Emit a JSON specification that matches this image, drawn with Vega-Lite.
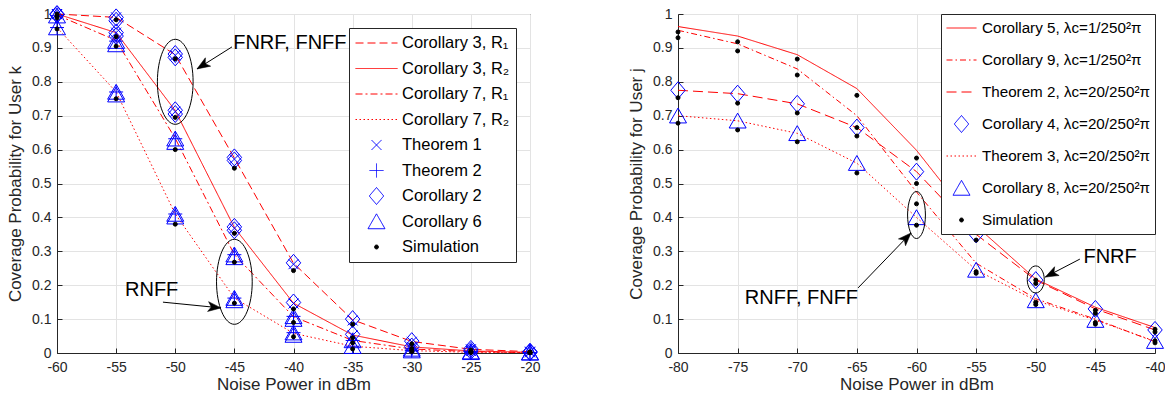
{
  "$schema": "https://vega.github.io/schema/vega-lite/v6.json",
  "background": "white",
  "padding": {"left": 6, "top": 3, "right": 0, "bottom": 2},
  "spacing": 86,
  "config": {
    "font": "Liberation Sans",
    "view": {"stroke": "#262626", "strokeWidth": 1},
    "axis": {
      "labelFont": "Liberation Sans", "labelFontSize": 14, "labelColor": "#262626",
      "titleFont": "Liberation Sans", "titleFontSize": 17, "titleFontWeight": "normal", "titleColor": "#262626",
      "domainColor": "#262626", "tickColor": "#262626", "gridColor": "#e3e3e3", "grid": true,
      "tickSize": -5, "labelPadding": 11, "titlePadding": 7, "labelFlush": false
    },
    "axisX": {"labelPadding": 12, "titlePadding": 2},
    "legend": {
      "symbolStrokeWidth": 1, "labelFont": "Liberation Sans", "labelColor": "#000000", "labelLimit": 0,
      "fillColor": "white", "strokeColor": "#262626", "cornerRadius": 0, "orient": "top-right", "clipHeight": 18
    }
  },
  "datasets": {
    "left": [
      {"series": "Corollary 3, R₁", "x": -60, "y": 1.0}, {"series": "Corollary 3, R₁", "x": -55, "y": 0.99}, {"series": "Corollary 3, R₁", "x": -50, "y": 0.88}, {"series": "Corollary 3, R₁", "x": -45, "y": 0.575}, {"series": "Corollary 3, R₁", "x": -40, "y": 0.265}, {"series": "Corollary 3, R₁", "x": -35, "y": 0.098}, {"series": "Corollary 3, R₁", "x": -30, "y": 0.034}, {"series": "Corollary 3, R₁", "x": -25, "y": 0.011}, {"series": "Corollary 3, R₁", "x": -20, "y": 0.004},
      {"series": "Corollary 3, R₂", "x": -60, "y": 1.0}, {"series": "Corollary 3, R₂", "x": -55, "y": 0.945}, {"series": "Corollary 3, R₂", "x": -50, "y": 0.715}, {"series": "Corollary 3, R₂", "x": -45, "y": 0.37}, {"series": "Corollary 3, R₂", "x": -40, "y": 0.147}, {"series": "Corollary 3, R₂", "x": -35, "y": 0.053}, {"series": "Corollary 3, R₂", "x": -30, "y": 0.018}, {"series": "Corollary 3, R₂", "x": -25, "y": 0.006}, {"series": "Corollary 3, R₂", "x": -20, "y": 0.002},
      {"series": "Corollary 7, R₁", "x": -60, "y": 0.997}, {"series": "Corollary 7, R₁", "x": -55, "y": 0.922}, {"series": "Corollary 7, R₁", "x": -50, "y": 0.633}, {"series": "Corollary 7, R₁", "x": -45, "y": 0.29}, {"series": "Corollary 7, R₁", "x": -40, "y": 0.107}, {"series": "Corollary 7, R₁", "x": -35, "y": 0.037}, {"series": "Corollary 7, R₁", "x": -30, "y": 0.012}, {"series": "Corollary 7, R₁", "x": -25, "y": 0.004}, {"series": "Corollary 7, R₁", "x": -20, "y": 0.001},
      {"series": "Corollary 7, R₂", "x": -60, "y": 0.96}, {"series": "Corollary 7, R₂", "x": -55, "y": 0.77}, {"series": "Corollary 7, R₂", "x": -50, "y": 0.41}, {"series": "Corollary 7, R₂", "x": -45, "y": 0.162}, {"series": "Corollary 7, R₂", "x": -40, "y": 0.058}, {"series": "Corollary 7, R₂", "x": -35, "y": 0.02}, {"series": "Corollary 7, R₂", "x": -30, "y": 0.007}, {"series": "Corollary 7, R₂", "x": -25, "y": 0.002}, {"series": "Corollary 7, R₂", "x": -20, "y": 0.001},
      {"series": "Corollary 2", "x": -60, "y": 1.0}, {"series": "Corollary 2", "x": -60, "y": 0.998},
      {"series": "Corollary 2", "x": -55, "y": 0.99}, {"series": "Corollary 2", "x": -55, "y": 0.945}, {"series": "Corollary 2", "x": -55, "y": 0.98}, {"series": "Corollary 2", "x": -55, "y": 0.935},
      {"series": "Corollary 2", "x": -50, "y": 0.882}, {"series": "Corollary 2", "x": -50, "y": 0.716}, {"series": "Corollary 2", "x": -50, "y": 0.872}, {"series": "Corollary 2", "x": -50, "y": 0.705},
      {"series": "Corollary 2", "x": -45, "y": 0.577}, {"series": "Corollary 2", "x": -45, "y": 0.372}, {"series": "Corollary 2", "x": -45, "y": 0.568}, {"series": "Corollary 2", "x": -45, "y": 0.362},
      {"series": "Corollary 2", "x": -40, "y": 0.266}, {"series": "Corollary 2", "x": -40, "y": 0.149},
      {"series": "Corollary 2", "x": -35, "y": 0.1}, {"series": "Corollary 2", "x": -35, "y": 0.055},
      {"series": "Corollary 2", "x": -30, "y": 0.035}, {"series": "Corollary 2", "x": -30, "y": 0.019},
      {"series": "Corollary 2", "x": -25, "y": 0.012}, {"series": "Corollary 2", "x": -25, "y": 0.006},
      {"series": "Corollary 2", "x": -20, "y": 0.004}, {"series": "Corollary 2", "x": -20, "y": 0.002},
      {"series": "Corollary 6", "x": -60, "y": 0.995}, {"series": "Corollary 6", "x": -60, "y": 0.96},
      {"series": "Corollary 6", "x": -55, "y": 0.92}, {"series": "Corollary 6", "x": -55, "y": 0.77}, {"series": "Corollary 6", "x": -55, "y": 0.91}, {"series": "Corollary 6", "x": -55, "y": 0.762},
      {"series": "Corollary 6", "x": -50, "y": 0.632}, {"series": "Corollary 6", "x": -50, "y": 0.41}, {"series": "Corollary 6", "x": -50, "y": 0.622}, {"series": "Corollary 6", "x": -50, "y": 0.402},
      {"series": "Corollary 6", "x": -45, "y": 0.29}, {"series": "Corollary 6", "x": -45, "y": 0.162}, {"series": "Corollary 6", "x": -45, "y": 0.282}, {"series": "Corollary 6", "x": -45, "y": 0.155},
      {"series": "Corollary 6", "x": -40, "y": 0.108}, {"series": "Corollary 6", "x": -40, "y": 0.06}, {"series": "Corollary 6", "x": -40, "y": 0.1}, {"series": "Corollary 6", "x": -40, "y": 0.053},
      {"series": "Corollary 6", "x": -35, "y": 0.037}, {"series": "Corollary 6", "x": -35, "y": 0.02},
      {"series": "Corollary 6", "x": -30, "y": 0.012}, {"series": "Corollary 6", "x": -30, "y": 0.007},
      {"series": "Corollary 6", "x": -25, "y": 0.004}, {"series": "Corollary 6", "x": -25, "y": 0.002},
      {"series": "Corollary 6", "x": -20, "y": 0.001}, {"series": "Corollary 6", "x": -20, "y": 0.0005},
      {"series": "Theorem 1", "x": -60, "y": 1.0}, {"series": "Theorem 1", "x": -60, "y": 0.999},
      {"series": "Theorem 1", "x": -55, "y": 0.99}, {"series": "Theorem 1", "x": -55, "y": 0.945},
      {"series": "Theorem 1", "x": -50, "y": 0.878}, {"series": "Theorem 1", "x": -50, "y": 0.712},
      {"series": "Theorem 1", "x": -45, "y": 0.572}, {"series": "Theorem 1", "x": -45, "y": 0.368},
      {"series": "Theorem 1", "x": -40, "y": 0.262}, {"series": "Theorem 1", "x": -40, "y": 0.146},
      {"series": "Theorem 1", "x": -35, "y": 0.096}, {"series": "Theorem 1", "x": -35, "y": 0.052},
      {"series": "Theorem 1", "x": -30, "y": 0.033}, {"series": "Theorem 1", "x": -30, "y": 0.018},
      {"series": "Theorem 1", "x": -25, "y": 0.011}, {"series": "Theorem 1", "x": -25, "y": 0.006},
      {"series": "Theorem 1", "x": -20, "y": 0.004}, {"series": "Theorem 1", "x": -20, "y": 0.002},
      {"series": "Theorem 2", "x": -60, "y": 0.995}, {"series": "Theorem 2", "x": -60, "y": 0.96},
      {"series": "Theorem 2", "x": -55, "y": 0.92}, {"series": "Theorem 2", "x": -55, "y": 0.77},
      {"series": "Theorem 2", "x": -50, "y": 0.632}, {"series": "Theorem 2", "x": -50, "y": 0.41},
      {"series": "Theorem 2", "x": -45, "y": 0.29}, {"series": "Theorem 2", "x": -45, "y": 0.162},
      {"series": "Theorem 2", "x": -40, "y": 0.108}, {"series": "Theorem 2", "x": -40, "y": 0.06},
      {"series": "Theorem 2", "x": -35, "y": 0.037}, {"series": "Theorem 2", "x": -35, "y": 0.02},
      {"series": "Theorem 2", "x": -30, "y": 0.012}, {"series": "Theorem 2", "x": -30, "y": 0.007},
      {"series": "Theorem 2", "x": -25, "y": 0.004}, {"series": "Theorem 2", "x": -25, "y": 0.002},
      {"series": "Theorem 2", "x": -20, "y": 0.001}, {"series": "Theorem 2", "x": -20, "y": 0.0005},
      {"series": "Simulation", "x": -60, "y": 1.0}, {"series": "Simulation", "x": -60, "y": 0.994}, {"series": "Simulation", "x": -60, "y": 0.988}, {"series": "Simulation", "x": -60, "y": 0.956},
      {"series": "Simulation", "x": -55, "y": 0.983}, {"series": "Simulation", "x": -55, "y": 0.933}, {"series": "Simulation", "x": -55, "y": 0.905}, {"series": "Simulation", "x": -55, "y": 0.75},
      {"series": "Simulation", "x": -50, "y": 0.868}, {"series": "Simulation", "x": -50, "y": 0.695}, {"series": "Simulation", "x": -50, "y": 0.6}, {"series": "Simulation", "x": -50, "y": 0.38},
      {"series": "Simulation", "x": -45, "y": 0.545}, {"series": "Simulation", "x": -45, "y": 0.353}, {"series": "Simulation", "x": -45, "y": 0.268}, {"series": "Simulation", "x": -45, "y": 0.147},
      {"series": "Simulation", "x": -40, "y": 0.243}, {"series": "Simulation", "x": -40, "y": 0.13}, {"series": "Simulation", "x": -40, "y": 0.09}, {"series": "Simulation", "x": -40, "y": 0.048},
      {"series": "Simulation", "x": -35, "y": 0.085}, {"series": "Simulation", "x": -35, "y": 0.045}, {"series": "Simulation", "x": -35, "y": 0.03}, {"series": "Simulation", "x": -35, "y": 0.012},
      {"series": "Simulation", "x": -30, "y": 0.027}, {"series": "Simulation", "x": -30, "y": 0.013}, {"series": "Simulation", "x": -30, "y": 0.008}, {"series": "Simulation", "x": -30, "y": 0.004},
      {"series": "Simulation", "x": -25, "y": 0.009}, {"series": "Simulation", "x": -25, "y": 0.004}, {"series": "Simulation", "x": -25, "y": 0.003}, {"series": "Simulation", "x": -25, "y": 0.001},
      {"series": "Simulation", "x": -20, "y": 0.003}, {"series": "Simulation", "x": -20, "y": 0.002}, {"series": "Simulation", "x": -20, "y": 0.001}, {"series": "Simulation", "x": -20, "y": 0.0005}
    ],
    "right": [
      {"series": "Corollary 5, λc=1/250²π", "x": -80, "y": 0.963}, {"series": "Corollary 5, λc=1/250²π", "x": -75, "y": 0.935}, {"series": "Corollary 5, λc=1/250²π", "x": -70, "y": 0.88}, {"series": "Corollary 5, λc=1/250²π", "x": -65, "y": 0.78}, {"series": "Corollary 5, λc=1/250²π", "x": -60, "y": 0.598}, {"series": "Corollary 5, λc=1/250²π", "x": -55, "y": 0.375}, {"series": "Corollary 5, λc=1/250²π", "x": -50, "y": 0.218}, {"series": "Corollary 5, λc=1/250²π", "x": -45, "y": 0.135}, {"series": "Corollary 5, λc=1/250²π", "x": -40, "y": 0.075},
      {"series": "Corollary 9, λc=1/250²π", "x": -80, "y": 0.952}, {"series": "Corollary 9, λc=1/250²π", "x": -75, "y": 0.912}, {"series": "Corollary 9, λc=1/250²π", "x": -70, "y": 0.838}, {"series": "Corollary 9, λc=1/250²π", "x": -65, "y": 0.7}, {"series": "Corollary 9, λc=1/250²π", "x": -60, "y": 0.475}, {"series": "Corollary 9, λc=1/250²π", "x": -55, "y": 0.265}, {"series": "Corollary 9, λc=1/250²π", "x": -50, "y": 0.16}, {"series": "Corollary 9, λc=1/250²π", "x": -45, "y": 0.1}, {"series": "Corollary 9, λc=1/250²π", "x": -40, "y": 0.033},
      {"series": "Theorem 2, λc=20/250²π", "x": -80, "y": 0.775}, {"series": "Theorem 2, λc=20/250²π", "x": -75, "y": 0.765}, {"series": "Theorem 2, λc=20/250²π", "x": -70, "y": 0.735}, {"series": "Theorem 2, λc=20/250²π", "x": -65, "y": 0.665}, {"series": "Theorem 2, λc=20/250²π", "x": -60, "y": 0.535}, {"series": "Theorem 2, λc=20/250²π", "x": -55, "y": 0.35}, {"series": "Theorem 2, λc=20/250²π", "x": -50, "y": 0.215}, {"series": "Theorem 2, λc=20/250²π", "x": -45, "y": 0.13}, {"series": "Theorem 2, λc=20/250²π", "x": -40, "y": 0.068},
      {"series": "Theorem 3, λc=20/250²π", "x": -80, "y": 0.7}, {"series": "Theorem 3, λc=20/250²π", "x": -75, "y": 0.685}, {"series": "Theorem 3, λc=20/250²π", "x": -70, "y": 0.648}, {"series": "Theorem 3, λc=20/250²π", "x": -65, "y": 0.56}, {"series": "Theorem 3, λc=20/250²π", "x": -60, "y": 0.4}, {"series": "Theorem 3, λc=20/250²π", "x": -55, "y": 0.245}, {"series": "Theorem 3, λc=20/250²π", "x": -50, "y": 0.155}, {"series": "Theorem 3, λc=20/250²π", "x": -45, "y": 0.097}, {"series": "Theorem 3, λc=20/250²π", "x": -40, "y": 0.035},
      {"series": "Corollary 4, λc=20/250²π", "x": -80, "y": 0.775}, {"series": "Corollary 4, λc=20/250²π", "x": -75, "y": 0.765}, {"series": "Corollary 4, λc=20/250²π", "x": -70, "y": 0.735}, {"series": "Corollary 4, λc=20/250²π", "x": -65, "y": 0.665}, {"series": "Corollary 4, λc=20/250²π", "x": -60, "y": 0.535}, {"series": "Corollary 4, λc=20/250²π", "x": -55, "y": 0.35}, {"series": "Corollary 4, λc=20/250²π", "x": -50, "y": 0.215}, {"series": "Corollary 4, λc=20/250²π", "x": -45, "y": 0.13}, {"series": "Corollary 4, λc=20/250²π", "x": -40, "y": 0.068},
      {"series": "Corollary 8, λc=20/250²π", "x": -80, "y": 0.7}, {"series": "Corollary 8, λc=20/250²π", "x": -75, "y": 0.685}, {"series": "Corollary 8, λc=20/250²π", "x": -70, "y": 0.648}, {"series": "Corollary 8, λc=20/250²π", "x": -65, "y": 0.56}, {"series": "Corollary 8, λc=20/250²π", "x": -60, "y": 0.4}, {"series": "Corollary 8, λc=20/250²π", "x": -55, "y": 0.245}, {"series": "Corollary 8, λc=20/250²π", "x": -50, "y": 0.155}, {"series": "Corollary 8, λc=20/250²π", "x": -45, "y": 0.097}, {"series": "Corollary 8, λc=20/250²π", "x": -40, "y": 0.035},
      {"series": "Simulation", "x": -80, "y": 0.947}, {"series": "Simulation", "x": -80, "y": 0.93}, {"series": "Simulation", "x": -80, "y": 0.753}, {"series": "Simulation", "x": -80, "y": 0.678},
      {"series": "Simulation", "x": -75, "y": 0.918}, {"series": "Simulation", "x": -75, "y": 0.891}, {"series": "Simulation", "x": -75, "y": 0.737}, {"series": "Simulation", "x": -75, "y": 0.658},
      {"series": "Simulation", "x": -70, "y": 0.867}, {"series": "Simulation", "x": -70, "y": 0.82}, {"series": "Simulation", "x": -70, "y": 0.708}, {"series": "Simulation", "x": -70, "y": 0.623},
      {"series": "Simulation", "x": -65, "y": 0.76}, {"series": "Simulation", "x": -65, "y": 0.665}, {"series": "Simulation", "x": -65, "y": 0.64}, {"series": "Simulation", "x": -65, "y": 0.531},
      {"series": "Simulation", "x": -60, "y": 0.575}, {"series": "Simulation", "x": -60, "y": 0.5}, {"series": "Simulation", "x": -60, "y": 0.44}, {"series": "Simulation", "x": -60, "y": 0.377},
      {"series": "Simulation", "x": -55, "y": 0.36}, {"series": "Simulation", "x": -55, "y": 0.333}, {"series": "Simulation", "x": -55, "y": 0.24}, {"series": "Simulation", "x": -55, "y": 0.235},
      {"series": "Simulation", "x": -50, "y": 0.215}, {"series": "Simulation", "x": -50, "y": 0.205}, {"series": "Simulation", "x": -50, "y": 0.15}, {"series": "Simulation", "x": -50, "y": 0.143},
      {"series": "Simulation", "x": -45, "y": 0.126}, {"series": "Simulation", "x": -45, "y": 0.117}, {"series": "Simulation", "x": -45, "y": 0.09}, {"series": "Simulation", "x": -45, "y": 0.085},
      {"series": "Simulation", "x": -40, "y": 0.07}, {"series": "Simulation", "x": -40, "y": 0.062}, {"series": "Simulation", "x": -40, "y": 0.036}, {"series": "Simulation", "x": -40, "y": 0.03}
    ]
  },
  "resolve": {
    "scale": {"stroke": "independent", "fill": "independent", "shape": "independent", "strokeDash": "independent", "size": "independent"},
    "legend": {"stroke": "independent", "fill": "independent", "shape": "independent", "strokeDash": "independent", "size": "independent"}
  },
  "hconcat": [
    {
      "width": 473, "height": 339,
      "encoding": {
        "x": {"field": "x", "type": "quantitative", "scale": {"domain": [-60, -20], "nice": false}, "axis": {"values": [-60, -55, -50, -45, -40, -35, -30, -25, -20], "title": "Noise Power in dBm", "labelExpr": "'' + datum.value"}},
        "y": {"field": "y", "type": "quantitative", "scale": {"domain": [0, 1], "nice": false}, "axis": {"values": [0, 0.1, 0.2, 0.3, 0.4, 0.5, 0.6, 0.7, 0.8, 0.9, 1], "title": "Coverage Probability for User k", "format": "~g"}}
      },
      "layer": [
        {
          "data": {"name": "left"},
          "transform": [{"filter": {"field": "series", "oneOf": ["Corollary 3, R₁", "Corollary 3, R₂", "Corollary 7, R₁", "Corollary 7, R₂"]}}],
          "mark": {"type": "line", "strokeWidth": 1},
          "encoding": {
            "stroke": {"field": "series", "type": "nominal", "scale": {"domain": ["Corollary 3, R₁", "Corollary 3, R₂", "Corollary 7, R₁", "Corollary 7, R₂", "Theorem 1", "Theorem 2", "Corollary 2", "Corollary 6", "Simulation"], "range": ["#ff0000", "#ff0000", "#ff0000", "#ff0000", "#0000ff", "#0000ff", "#0000ff", "#0000ff", "#000000"]}, "legend": {"title": null, "offset": 14, "padding": 6, "labelFontSize": 16.5, "rowPadding": 7.5, "labelOffset": 4}},
            "strokeDash": {"field": "series", "type": "nominal", "scale": {"domain": ["Corollary 3, R₁", "Corollary 3, R₂", "Corollary 7, R₁", "Corollary 7, R₂", "Theorem 1", "Theorem 2", "Corollary 2", "Corollary 6", "Simulation"], "range": [[8, 4], [1, 0], [7, 3, 2, 3], [1.5, 2.5], [1, 0], [1, 0], [1, 0], [1, 0], [1, 0]]}, "legend": {"title": null, "offset": 14, "padding": 6, "labelFontSize": 16.5, "rowPadding": 7.5, "labelOffset": 4}}
          }
        },
        {
          "data": {"name": "left"},
          "transform": [{"filter": {"field": "series", "oneOf": ["Theorem 1", "Theorem 2", "Corollary 2", "Corollary 6", "Simulation"]}}],
          "mark": {"type": "point", "strokeWidth": 1, "opacity": 1},
          "encoding": {
            "stroke": {"field": "series", "type": "nominal", "scale": {"domain": ["Corollary 3, R₁", "Corollary 3, R₂", "Corollary 7, R₁", "Corollary 7, R₂", "Theorem 1", "Theorem 2", "Corollary 2", "Corollary 6", "Simulation"], "range": ["#ff0000", "#ff0000", "#ff0000", "#ff0000", "#0000ff", "#0000ff", "#0000ff", "#0000ff", "#000000"]}, "legend": {"title": null, "offset": 14, "padding": 6, "labelFontSize": 16.5, "rowPadding": 7.5, "labelOffset": 4}},
            "fill": {"field": "series", "type": "nominal", "scale": {"domain": ["Corollary 3, R₁", "Corollary 3, R₂", "Corollary 7, R₁", "Corollary 7, R₂", "Theorem 1", "Theorem 2", "Corollary 2", "Corollary 6", "Simulation"], "range": ["transparent", "transparent", "transparent", "transparent", "transparent", "transparent", "transparent", "transparent", "#000000"]}, "legend": {"title": null, "offset": 14, "padding": 6, "labelFontSize": 16.5, "rowPadding": 7.5, "labelOffset": 4}},
            "shape": {"field": "series", "type": "nominal", "scale": {"domain": ["Corollary 3, R₁", "Corollary 3, R₂", "Corollary 7, R₁", "Corollary 7, R₂", "Theorem 1", "Theorem 2", "Corollary 2", "Corollary 6", "Simulation"], "range": ["stroke", "stroke", "stroke", "stroke", "M -1 -1 L 1 1 M -1 1 L 1 -1", "M -1 0 L 1 0 M 0 -1 L 0 1", "M 0 -1 L 0.85 0 L 0 1 L -0.85 0 Z", "M 0 -0.9 L 1 0.85 L -1 0.85 Z", "circle"]}, "legend": {"title": null, "offset": 14, "padding": 6, "labelFontSize": 16.5, "rowPadding": 7.5, "labelOffset": 4}},
            "size": {"field": "series", "type": "nominal", "scale": {"type": "ordinal", "domain": ["Corollary 3, R₁", "Corollary 3, R₂", "Corollary 7, R₁", "Corollary 7, R₂", "Theorem 1", "Theorem 2", "Corollary 2", "Corollary 6", "Simulation"], "range": [1764, 1764, 1764, 1764, 100, 196, 289, 289, 16]}, "legend": {"title": null, "offset": 14, "padding": 6, "labelFontSize": 16.5, "rowPadding": 7.5, "labelOffset": 4}}
          }
        },
        {
          "data": {"values": [{"x": -50, "y": 0.8}, {"x": -45, "y": 0.21}]},
          "mark": {"type": "point", "shape": "M 0 -1 C 0.232 -1 0.42 -0.552 0.42 0 C 0.42 0.552 0.232 1 0 1 C -0.232 1 -0.42 0.552 -0.42 0 C -0.42 -0.552 -0.232 -1 0 -1 Z", "size": 7225, "stroke": "#000000", "strokeWidth": 1, "fill": null, "filled": false, "opacity": 1}
        },
        {
          "data": {"values": [{"x": -45.2, "y": 0.903, "x2": -48.16, "y2": 0.838}, {"x": -51.04, "y": 0.15, "x2": -46.13, "y2": 0.133}]},
          "mark": {"type": "rule", "stroke": "#000000", "strokeWidth": 1},
          "encoding": {"x2": {"field": "x2"}, "y2": {"field": "y2"}}
        },
        {
          "data": {"values": [{"x": -48.16, "y": 0.838}]},
          "mark": {"type": "point", "shape": "M 0 0 L -1 -0.38 L -0.75 0 L -1 0.38 Z", "size": 676, "angle": 147.8, "filled": true, "fill": "#000000", "stroke": "#000000", "strokeWidth": 0.5, "opacity": 1}
        },
        {
          "data": {"values": [{"x": -46.13, "y": 0.133}]},
          "mark": {"type": "point", "shape": "M 0 0 L -1 -0.38 L -0.75 0 L -1 0.38 Z", "size": 676, "angle": 5.9, "filled": true, "fill": "#000000", "stroke": "#000000", "strokeWidth": 0.5, "opacity": 1}
        },
        {
          "data": {"values": [{"x": -45.1, "y": 0.914, "label": "FNRF, FNFF"}, {"x": -54.25, "y": 0.186, "label": "RNFF"}]},
          "mark": {"type": "text", "align": "left", "baseline": "middle", "fontSize": 20, "font": "Liberation Sans", "color": "#000000"},
          "encoding": {"text": {"field": "label"}}
        }
      ]
    },
    {
      "width": 477, "height": 339,
      "encoding": {
        "x": {"field": "x", "type": "quantitative", "scale": {"domain": [-80, -40], "nice": false}, "axis": {"values": [-80, -75, -70, -65, -60, -55, -50, -45, -40], "title": "Noise Power in dBm", "labelExpr": "'' + datum.value"}},
        "y": {"field": "y", "type": "quantitative", "scale": {"domain": [0, 1], "nice": false}, "axis": {"values": [0, 0.1, 0.2, 0.3, 0.4, 0.5, 0.6, 0.7, 0.8, 0.9, 1], "title": "Coverage Probability for User j", "format": "~g"}}
      },
      "layer": [
        {
          "data": {"name": "right"},
          "transform": [{"filter": {"field": "series", "oneOf": ["Corollary 5, λc=1/250²π", "Corollary 9, λc=1/250²π", "Theorem 2, λc=20/250²π", "Theorem 3, λc=20/250²π"]}}],
          "mark": {"type": "line", "strokeWidth": 1},
          "encoding": {
            "stroke": {"field": "series", "type": "nominal", "scale": {"domain": ["Corollary 5, λc=1/250²π", "Corollary 9, λc=1/250²π", "Theorem 2, λc=20/250²π", "Corollary 4, λc=20/250²π", "Theorem 3, λc=20/250²π", "Corollary 8, λc=20/250²π", "Simulation"], "range": ["#ff0000", "#ff0000", "#ff0000", "#0000ff", "#ff0000", "#0000ff", "#000000"]}, "legend": {"title": null, "offset": 0, "padding": 5, "labelFontSize": 15.2, "rowPadding": 14, "labelOffset": 5}},
            "strokeDash": {"field": "series", "type": "nominal", "scale": {"domain": ["Corollary 5, λc=1/250²π", "Corollary 9, λc=1/250²π", "Theorem 2, λc=20/250²π", "Corollary 4, λc=20/250²π", "Theorem 3, λc=20/250²π", "Corollary 8, λc=20/250²π", "Simulation"], "range": [[1, 0], [6, 3, 1.5, 3], [10, 5], [1, 0], [1.5, 2.5], [1, 0], [1, 0]]}, "legend": {"title": null, "offset": 0, "padding": 5, "labelFontSize": 15.2, "rowPadding": 14, "labelOffset": 5}}
          }
        },
        {
          "data": {"name": "right"},
          "transform": [{"filter": {"field": "series", "oneOf": ["Corollary 4, λc=20/250²π", "Corollary 8, λc=20/250²π", "Simulation"]}}],
          "mark": {"type": "point", "strokeWidth": 1, "opacity": 1},
          "encoding": {
            "stroke": {"field": "series", "type": "nominal", "scale": {"domain": ["Corollary 5, λc=1/250²π", "Corollary 9, λc=1/250²π", "Theorem 2, λc=20/250²π", "Corollary 4, λc=20/250²π", "Theorem 3, λc=20/250²π", "Corollary 8, λc=20/250²π", "Simulation"], "range": ["#ff0000", "#ff0000", "#ff0000", "#0000ff", "#ff0000", "#0000ff", "#000000"]}, "legend": {"title": null, "offset": 0, "padding": 5, "labelFontSize": 15.2, "rowPadding": 14, "labelOffset": 5}},
            "fill": {"field": "series", "type": "nominal", "scale": {"domain": ["Corollary 5, λc=1/250²π", "Corollary 9, λc=1/250²π", "Theorem 2, λc=20/250²π", "Corollary 4, λc=20/250²π", "Theorem 3, λc=20/250²π", "Corollary 8, λc=20/250²π", "Simulation"], "range": ["transparent", "transparent", "transparent", "transparent", "transparent", "transparent", "#000000"]}, "legend": {"title": null, "offset": 0, "padding": 5, "labelFontSize": 15.2, "rowPadding": 14, "labelOffset": 5}},
            "shape": {"field": "series", "type": "nominal", "scale": {"domain": ["Corollary 5, λc=1/250²π", "Corollary 9, λc=1/250²π", "Theorem 2, λc=20/250²π", "Corollary 4, λc=20/250²π", "Theorem 3, λc=20/250²π", "Corollary 8, λc=20/250²π", "Simulation"], "range": ["stroke", "stroke", "stroke", "M 0 -1 L 0.85 0 L 0 1 L -0.85 0 Z", "stroke", "M 0 -0.9 L 1 0.85 L -1 0.85 Z", "circle"]}, "legend": {"title": null, "offset": 0, "padding": 5, "labelFontSize": 15.2, "rowPadding": 14, "labelOffset": 5}},
            "size": {"field": "series", "type": "nominal", "scale": {"type": "ordinal", "domain": ["Corollary 5, λc=1/250²π", "Corollary 9, λc=1/250²π", "Theorem 2, λc=20/250²π", "Corollary 4, λc=20/250²π", "Theorem 3, λc=20/250²π", "Corollary 8, λc=20/250²π", "Simulation"], "range": [900, 900, 900, 289, 900, 289, 16]}, "legend": {"title": null, "offset": 0, "padding": 5, "labelFontSize": 15.2, "rowPadding": 14, "labelOffset": 5}}
          }
        },
        {
          "data": {"values": [{"x": -60, "y": 0.407}]},
          "mark": {"type": "point", "shape": "M 0 -1 C 0.21 -1 0.38 -0.552 0.38 0 C 0.38 0.552 0.21 1 0 1 C -0.21 1 -0.38 0.552 -0.38 0 C -0.38 -0.552 -0.21 -1 0 -1 Z", "size": 2209, "stroke": "#000000", "strokeWidth": 1, "fill": null, "filled": false, "opacity": 1}
        },
        {
          "data": {"values": [{"x": -50, "y": 0.217}]},
          "mark": {"type": "point", "shape": "M 0 -1 C 0.348 -1 0.63 -0.552 0.63 0 C 0.63 0.552 0.348 1 0 1 C -0.348 1 -0.63 0.552 -0.63 0 C -0.63 -0.552 -0.348 -1 0 -1 Z", "size": 729, "stroke": "#000000", "strokeWidth": 1, "fill": null, "filled": false, "opacity": 1}
        },
        {
          "data": {"values": [{"x": -64.9, "y": 0.192, "x2": -60.46, "y2": 0.354}, {"x": -46.3, "y": 0.277, "x2": -49.2, "y2": 0.224}]},
          "mark": {"type": "rule", "stroke": "#000000", "strokeWidth": 1},
          "encoding": {"x2": {"field": "x2"}, "y2": {"field": "y2"}}
        },
        {
          "data": {"values": [{"x": -60.46, "y": 0.354}]},
          "mark": {"type": "point", "shape": "M 0 0 L -1 -0.38 L -0.75 0 L -1 0.38 Z", "size": 676, "angle": 314, "filled": true, "fill": "#000000", "stroke": "#000000", "strokeWidth": 0.5, "opacity": 1}
        },
        {
          "data": {"values": [{"x": -49.2, "y": 0.224}]},
          "mark": {"type": "point", "shape": "M 0 0 L -1 -0.38 L -0.75 0 L -1 0.38 Z", "size": 676, "angle": 152.8, "filled": true, "fill": "#000000", "stroke": "#000000", "strokeWidth": 0.5, "opacity": 1}
        },
        {
          "data": {"values": [{"x": -74.4, "y": 0.162, "label": "RNFF, FNFF"}, {"x": -46.0, "y": 0.283, "label": "FNRF"}]},
          "mark": {"type": "text", "align": "left", "baseline": "middle", "fontSize": 20, "font": "Liberation Sans", "color": "#000000"},
          "encoding": {"text": {"field": "label"}}
        }
      ]
    }
  ]
}
